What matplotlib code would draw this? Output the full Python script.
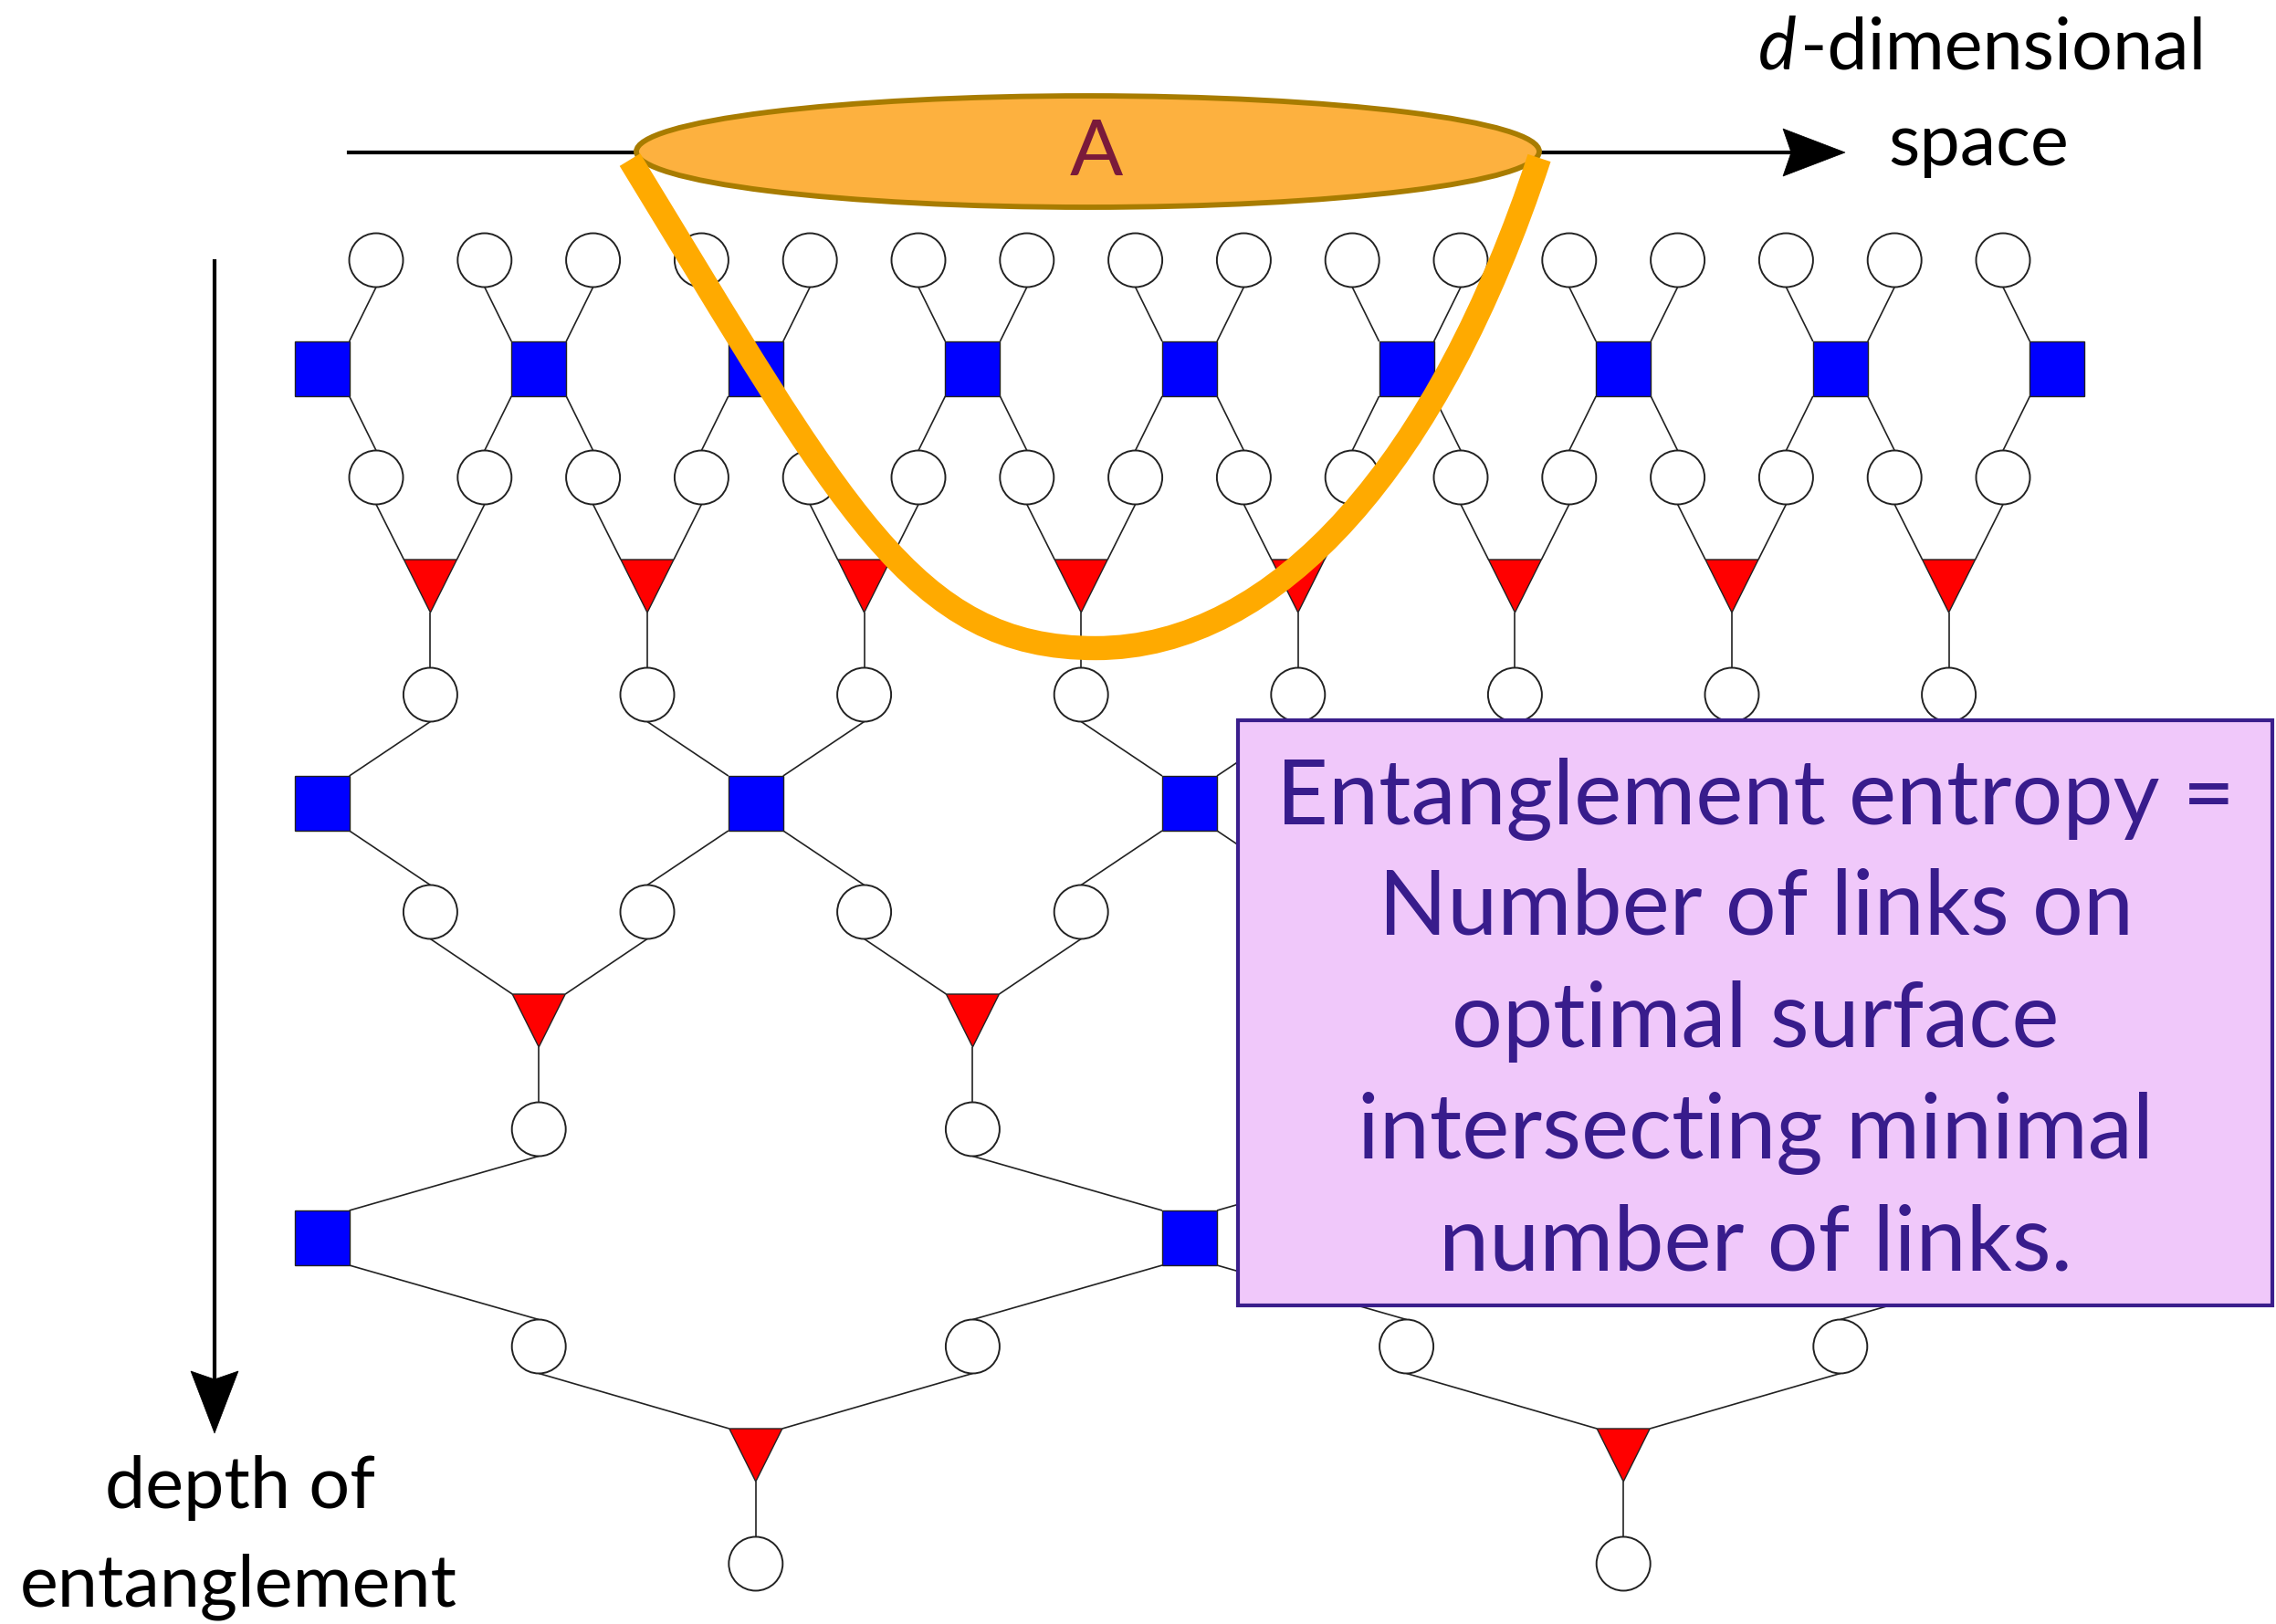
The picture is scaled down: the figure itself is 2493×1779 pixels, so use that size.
import matplotlib
matplotlib.use("Agg")
import matplotlib.pyplot as plt
from matplotlib.patches import Circle, Rectangle, Polygon, Ellipse, PathPatch
from matplotlib.path import Path

# ---------------- data / structure ----------------
# MERA network: columns (in half-spacing units) of each node type per row
top_cols = list(range(0, 31, 2))                 # physical sites
levels = [
    dict(sq=list(range(-1, 32, 4)), circ=list(range(0, 31, 2)), tri=list(range(1, 30, 4)), step=1),
    dict(sq=list(range(-1, 32, 8)), circ=list(range(1, 30, 4)), tri=list(range(3, 28, 8)), step=2),
    dict(sq=list(range(-1, 32, 16)), circ=list(range(3, 28, 8)), tri=list(range(7, 24, 16)), step=4),
]
box_lines = ["Entanglement entropy =", "Number of links on", "optimal surface",
             "intersecting minimal", "number of links."]
region_label = "A"
x_label = ["d", "-dimensional", "space"]
y_label = ["depth of", "entanglement"]

# ---------------- layout ----------------
W, H = 2493, 1779
fig = plt.figure(figsize=(W / 100, H / 100), dpi=100)
ax = fig.add_axes([0, 0, 1, 1])
ax.set_xlim(0, W)
ax.set_ylim(H, 0)
ax.axis("off")

X0, UNIT = 412.0, 59.4
Y0, ROW = 285.0, 119.0
R = 29.5      # circle radius
SQ = 30.0     # square half side
TR = 29.0     # triangle half size
LW = 1.2
EC = "#222222"
FONT = "Lato"

def cx(c):
    return X0 + c * UNIT

def ry(r):
    return Y0 + r * ROW

def line(p, q):
    ax.plot([p[0], q[0]], [p[1], q[1]], color=EC, lw=LW, zorder=2, solid_capstyle="butt")

def circle(c, r):
    ax.add_patch(Circle((cx(c), ry(r)), R, facecolor="white", edgecolor=EC, lw=1.4, zorder=3))

def square(c, r):
    ax.add_patch(Rectangle((cx(c) - SQ, ry(r) - SQ), 2 * SQ, 2 * SQ,
                           facecolor="#0000FF", edgecolor=EC, lw=1.0, zorder=3))

def triangle(c, r):
    x, y = cx(c), ry(r)
    ax.add_patch(Polygon([(x - TR, y - TR), (x + TR, y - TR), (x, y + TR)], closed=True,
                         facecolor="#FF0000", edgecolor=EC, lw=1.0, zorder=3))

for c in top_cols:
    circle(c, 0)

above_cols = top_cols
row = 0
for lev in levels:
    s = lev["step"]
    r_sq, r_c, r_t, r_o = row + 1, row + 2, row + 3, row + 4
    for c in lev["sq"]:
        square(c, r_sq)
        for d in (-s, s):
            sgn = 1 if d > 0 else -1
            if c + d in above_cols:
                line((cx(c + d), ry(row) + R), (cx(c) + sgn * SQ, ry(r_sq) - SQ))
            if c + d in lev["circ"]:
                line((cx(c) + sgn * SQ, ry(r_sq) + SQ), (cx(c + d), ry(r_c) - R))
    for c in lev["circ"]:
        circle(c, r_c)
    for c in lev["tri"]:
        triangle(c, r_t)
        for d in (-s, s):
            sgn = 1 if d > 0 else -1
            line((cx(c + d), ry(r_c) + R), (cx(c) + sgn * TR, ry(r_t) - TR))
        line((cx(c), ry(r_t) + TR), (cx(c), ry(r_o) - R))
        circle(c, r_o)
    above_cols = lev["tri"]
    row = r_o

# ---------------- axes arrows ----------------
def arrowhead(tip, direction, length=68, half=26, notch=9):
    tx, ty = tip
    dx, dy = direction
    nx, ny = -dy, dx
    bx, by = tx - dx * length, ty - dy * length
    verts = [(tx, ty),
             (bx + nx * half, by + ny * half),
             (bx + dx * notch, by + dy * notch),
             (bx - nx * half, by - ny * half),
             (tx, ty)]
    ax.add_patch(Polygon(verts, closed=True, facecolor="black", edgecolor="black", lw=0.5, zorder=6))

ax.plot([382, 1970], [167, 167], color="black", lw=3.0, zorder=4)
arrowhead((2021, 167), (1, 0))
ax.plot([235, 235], [286, 1515], color="black", lw=3.0, zorder=4)
arrowhead((235, 1570), (0, 1))

# ---------------- region A ----------------
ax.add_patch(Ellipse((1191.5, 166), 989, 122, facecolor="#FDB13F", edgecolor="#A87C00", lw=4.2, zorder=5))
ax.text(1201, 192, region_label, fontsize=62, color="#7A1A3A", family=FONT,
        ha="center", va="baseline", zorder=6)

# minimal surface (orange curve)
verts = [(690, 175), (924, 558), (1000, 710), (1200, 710),
         (1400, 710), (1577, 505), (1686, 173)]
codes = [Path.MOVETO, Path.CURVE4, Path.CURVE4, Path.CURVE4,
         Path.CURVE4, Path.CURVE4, Path.CURVE4]
ax.add_patch(PathPatch(Path(verts, codes), facecolor="none", edgecolor="#FFAA00",
                       lw=19, capstyle="butt", zorder=7))

# ---------------- labels ----------------
ax.text(1968, 75, x_label[0], fontsize=57, style="italic", family=FONT, ha="right", va="baseline", zorder=6)
ax.text(1972, 75, x_label[1], fontsize=57, family=FONT, ha="left", va="baseline", zorder=6)
ax.text(2167, 181, x_label[2], fontsize=57, family=FONT, ha="center", va="baseline", zorder=6)
ax.text(263, 1652, y_label[0], fontsize=57, family=FONT, ha="center", va="baseline", zorder=6)
ax.text(261, 1759, y_label[1], fontsize=57, family=FONT, ha="center", va="baseline", zorder=6)

# ---------------- info box ----------------
ax.add_patch(Rectangle((1356, 789), 2489 - 1356, 1430 - 789, facecolor="#F0C8FA",
                       edgecolor="#3A1E8C", lw=3, zorder=8))
baselines = [903, 1024, 1147, 1269, 1392]
for txt, b in zip(box_lines, baselines):
    ax.text(1923, b, txt, fontsize=71, color="#381C8C", family=FONT,
            ha="center", va="baseline", zorder=9)

fig.savefig("out.png", dpi=100)
